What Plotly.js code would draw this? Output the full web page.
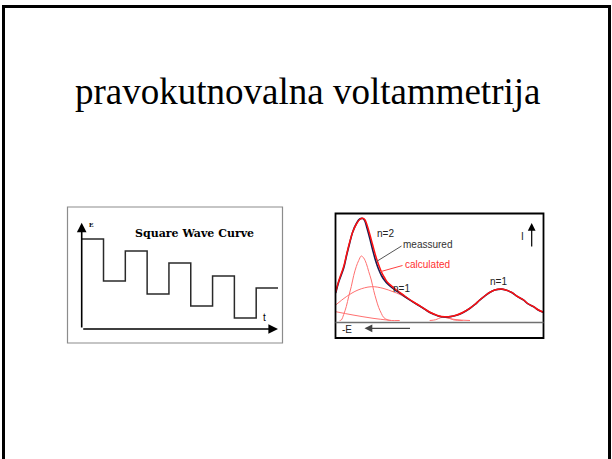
<!DOCTYPE html>
<html>
<head>
<meta charset="utf-8">
<script src="https://cdn.plot.ly/plotly-3.0.1.min.js"></script>
<style>html,body{margin:0;padding:0;background:#fff;}#chart{width:612px;height:459px;}</style>
</head>
<body>
<div id="chart"></div>
<script>
// ---- Left panel: square wave potential programme ----
const waveT = [0, 1, 2, 3, 4, 5, 6, 7, 8, 9];
const waveE = [90, 48, 78, 35, 66, 23, 53, 11, 41, 41];

// ---- Right panel: square wave voltammogram ----
const potX = [0, 3, 8, 11, 14, 17, 21, 24, 27, 29, 31, 34, 37, 40, 43, 46, 49, 52, 56, 60, 64, 69, 74, 81, 88, 92, 98, 103, 109, 115, 121, 127, 134, 139, 144, 149, 154, 159, 166, 170, 176, 181, 188, 192, 198, 202, 208];
const calcI = [28.5, 39.5, 54, 66.5, 78.5, 88.5, 97, 101, 102.2, 101, 96.5, 86.5, 75.5, 64.5, 55.5, 48, 42.5, 38, 34.5, 31, 28.2, 24.5, 21, 16.5, 12.2, 9.5, 6.5, 4.5, 3.8, 4, 5.5, 8, 12.2, 16, 20.5, 24.5, 28.2, 30.5, 31.5, 30.5, 28.2, 24.5, 20.5, 17, 13.8, 11, 8.2];
const measI = [27.5, 38.5, 52.5, 65.5, 77.5, 88.5, 97.5, 101.5, 102, 100, 93.5, 82.5, 70.5, 59.5, 51, 44.5, 40, 36.5, 33, 30, 27.5, 24, 20.7, 16.3, 12, 9.3, 6.3, 4.3, 3.6, 3.9, 5.3, 7.8, 12, 15.8, 20.3, 24.3, 28, 30.4, 31.4, 30.4, 28, 24.3, 20.3, 16.8, 13.6, 10.8, 8];

// component peaks (thin light red)
const compN2X = [4, 5.6, 8, 10.6, 13, 15.6, 18, 20.6, 23, 25.6, 28, 30.6, 33, 35.6, 38, 40.6, 43, 45.6, 48, 52.3, 56, 64];
const compN2I = [0, 0.5, 6, 14, 24, 34, 45, 54, 60, 64.5, 62.5, 57, 49, 40.5, 30, 20.5, 13, 7.2, 3, 0.5, 0, 0];
const compN1X = [0, 10.6, 22.3, 35.6, 47.3, 57.3, 64.3, 77.3, 90.3, 104.3, 119.3, 134.3];
const compN1I = [15.5, 23.8, 30.5, 33.8, 32.2, 28.8, 26, 18.5, 10.5, 4.5, 1, 0];
const compBgX = [0, 17.3, 37.3, 55.6];
const compBgI = [8.8, 5.5, 2.2, 0];
const compSmX = [94, 100, 105, 109, 113, 118, 127];
const compSmI = [0, 0.8, 2.8, 3.3, 2.5, 0.6, 0];

const W = 612, H = 459;
const PX = x => x / W;
const PY = y => 1 - y / H;

const compLine = {color: '#ff7070', width: 1, shape: 'spline'};
const traces = [
  {x: waveT, y: waveE, mode: 'lines', line: {shape: 'hv', color: '#2a2a2a', width: 1.5}, xaxis: 'x', yaxis: 'y'},
  {x: compBgX, y: compBgI, mode: 'lines', xaxis: 'x2', yaxis: 'y2', line: compLine},
  {x: compN1X, y: compN1I, mode: 'lines', xaxis: 'x2', yaxis: 'y2', line: compLine},
  {x: compN2X, y: compN2I, mode: 'lines', xaxis: 'x2', yaxis: 'y2', line: compLine},
  {x: compSmX, y: compSmI, mode: 'lines', xaxis: 'x2', yaxis: 'y2', line: compLine},
  {x: potX, y: measI, mode: 'lines', xaxis: 'x2', yaxis: 'y2', line: {color: '#1c1c52', width: 1.6, shape: 'spline'}},
  {x: potX, y: calcI, mode: 'lines', xaxis: 'x2', yaxis: 'y2', line: {color: '#ff1010', width: 1.5, shape: 'spline'}}
];

const hidden = {visible: false, showgrid: false, zeroline: false, fixedrange: true};
const layout = {
  width: W, height: H,
  margin: {l: 0, r: 0, t: 0, b: 0},
  paper_bgcolor: '#ffffff', plot_bgcolor: 'rgba(0,0,0,0)',
  showlegend: false,
  xaxis: Object.assign({domain: [PX(81.7), PX(278)], range: [0, 9], anchor: 'y'}, hidden),
  yaxis: Object.assign({domain: [PY(329), PY(222.7)], range: [0, 106.3], anchor: 'x'}, hidden),
  xaxis2: Object.assign({domain: [PX(335.7), PX(543.3)], range: [0, 207.6], anchor: 'y2'}, hidden),
  yaxis2: Object.assign({domain: [PY(338), PY(214)], range: [-17.5, 106.5], anchor: 'x2'}, hidden),
  shapes: [
    {type: 'rect', xref: 'paper', yref: 'paper', x0: PX(3.5), x1: PX(609.5), y0: PY(470), y1: PY(6.5), line: {color: '#000', width: 3}},
    {type: 'rect', xref: 'paper', yref: 'paper', x0: PX(67.5), x1: PX(282.5), y0: PY(343), y1: PY(207), line: {color: '#8c8c8c', width: 1.2}},
    {type: 'rect', xref: 'paper', yref: 'paper', x0: PX(335.5), x1: PX(543.5), y0: PY(338), y1: PY(213.5), line: {color: '#000', width: 1.8}},
    {type: 'line', xref: 'paper', yref: 'y2', x0: PX(335.5), x1: PX(543.5), y0: -2, y1: -2, line: {color: '#707070', width: 1.5}},
    {type: 'line', xref: 'paper', yref: 'paper', x0: PX(401.5), y0: PY(246), x1: PX(376.5), y1: PY(261.5), line: {color: '#555', width: 1}},
    {type: 'line', xref: 'paper', yref: 'paper', x0: PX(402.5), y0: PY(265.5), x1: PX(381), y1: PY(271.5), line: {color: '#ff4040', width: 1}}
  ],
  annotations: [
    {text: 'pravokutnovalna voltammetrija', xref: 'paper', yref: 'paper', x: PX(307.5), y: PY(91), xanchor: 'center', yanchor: 'middle', showarrow: false,
     font: {family: 'Liberation Serif, Times New Roman, serif', size: 37, color: '#000'}},
    {text: '', xref: 'x', yref: 'y', x: 9, y: 0, axref: 'x', ayref: 'y', ax: 0, ay: 0, showarrow: true, arrowhead: 2, arrowsize: 1.2, arrowwidth: 1.6, arrowcolor: '#000'},
    {text: '', xref: 'x', yref: 'y', x: 0, y: 106.3, axref: 'x', ayref: 'y', ax: 0, ay: 0, showarrow: true, arrowhead: 2, arrowsize: 1.2, arrowwidth: 1.6, arrowcolor: '#000'},
    {text: '<b>E</b>', xref: 'paper', yref: 'paper', x: PX(91.5), y: PY(225), xanchor: 'center', yanchor: 'middle', showarrow: false,
     font: {family: 'Liberation Serif, serif', size: 7, color: '#000'}},
    {text: '<b>Square Wave Curve</b>', xref: 'paper', yref: 'paper', x: PX(194), y: PY(233), xanchor: 'center', yanchor: 'middle', showarrow: false,
     font: {family: 'DejaVu Serif, serif', size: 11, color: '#000'}},
    {text: 't', xref: 'paper', yref: 'paper', x: PX(264), y: PY(317), xanchor: 'center', yanchor: 'middle', showarrow: false,
     font: {family: 'Liberation Sans, Arial, sans-serif', size: 10, color: '#000'}},
    {text: 'n=2', xref: 'paper', yref: 'paper', x: PX(385.5), y: PY(234), xanchor: 'center', yanchor: 'middle', showarrow: false,
     font: {family: 'Liberation Sans, Arial, sans-serif', size: 10, color: '#222'}},
    {text: 'meassured', xref: 'paper', yref: 'paper', x: PX(427), y: PY(244), xanchor: 'center', yanchor: 'middle', showarrow: false,
     font: {family: 'Liberation Sans, Arial, sans-serif', size: 10, color: '#333'}},
    {text: 'calculated', xref: 'paper', yref: 'paper', x: PX(427), y: PY(264.5), xanchor: 'center', yanchor: 'middle', showarrow: false,
     font: {family: 'Liberation Sans, Arial, sans-serif', size: 10, color: '#ff3030'}},
    {text: 'n=1', xref: 'paper', yref: 'paper', x: PX(401.5), y: PY(288), xanchor: 'center', yanchor: 'middle', showarrow: false,
     font: {family: 'Liberation Sans, Arial, sans-serif', size: 10, color: '#222'}},
    {text: 'n=1', xref: 'paper', yref: 'paper', x: PX(498.5), y: PY(281), xanchor: 'center', yanchor: 'middle', showarrow: false,
     font: {family: 'Liberation Sans, Arial, sans-serif', size: 10, color: '#222'}},
    {text: 'I', xref: 'paper', yref: 'paper', x: PX(522), y: PY(236.5), xanchor: 'center', yanchor: 'middle', showarrow: false,
     font: {family: 'Liberation Sans, Arial, sans-serif', size: 10, color: '#222'}},
    {text: '-E', xref: 'paper', yref: 'paper', x: PX(347), y: PY(329.5), xanchor: 'center', yanchor: 'middle', showarrow: false,
     font: {family: 'Liberation Sans, Arial, sans-serif', size: 10, color: '#222'}},
    {text: '', xref: 'paper', yref: 'paper', x: PX(531.7), y: PY(223), ax: 0, ay: 25, showarrow: true, arrowhead: 2, arrowsize: 1.3, arrowwidth: 1.2, arrowcolor: '#000'},
    {text: '', xref: 'paper', yref: 'paper', x: PX(364.5), y: PY(328.3), ax: 47, ay: 0, showarrow: true, arrowhead: 2, arrowsize: 1.3, arrowwidth: 1.2, arrowcolor: '#444'}
  ]
};

Plotly.newPlot('chart', traces, layout, {staticPlot: true, displayModeBar: false});
</script>
</body>
</html>
